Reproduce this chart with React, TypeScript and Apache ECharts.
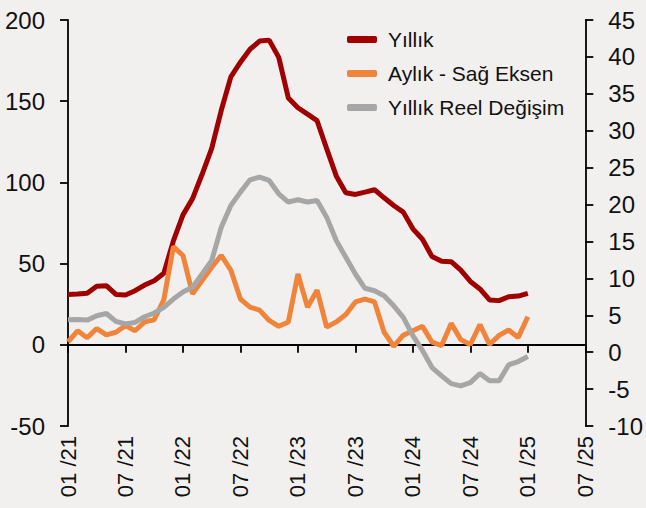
import React, { useEffect, useRef } from "react";
import * as echarts from "echarts";

const years = ["21", "22", "23", "24", "25"];
const monthNames = ["01", "02", "03", "04", "05", "06", "07", "08", "09", "10", "11", "12"];
const categories: string[] = [];
years.forEach((y) => monthNames.forEach((m) => categories.push(m + " /" + y)));
categories.splice(55); // 01/21 .. 07/25

const seriesNames = ["Yıllık", "Aylık - Sağ Eksen", "Yıllık Reel Değişim"];

const yillik = [
  31, 31.3, 31.7, 36, 36.4, 31, 30.7, 33.3, 36.8, 39.5, 44, 64, 80, 90, 105, 121, 144.4, 165, 174, 182,
  187, 187.6, 177, 152, 146, 142, 138, 120.8, 104, 93.6, 92.6, 94, 95.5, 90.5, 85.8, 81.7, 71.4, 65,
  54.3, 51.4, 51.2, 46, 39, 34.4, 27.6, 27.2, 29.6, 30, 31.7,
];

const aylik = [
  1.4, 2.9, 1.95, 3.2, 2.35, 2.7, 3.6, 2.9, 4.1, 4.4, 7.1, 14.3, 13.1, 7.9, 9.7, 11.5, 13.1, 11.1, 7.2,
  6.1, 5.7, 4.3, 3.5, 4.1, 10.6, 6.1, 8.4, 3.4, 4.1, 5.1, 6.8, 7.2, 6.8, 2.7, 0.8, 2.3, 2.9, 3.5, 1.36,
  0.9, 3.9, 1.7, 1.04, 3.75, 1.04, 2.27, 3.0, 2.0, 4.8,
];

const reel = [
  15.4, 15.6, 15.2, 17.9, 19.3, 14.4, 12.8, 13.8, 17.3, 19.6, 23, 28.2, 32.5, 35.4, 43.6, 51.9, 72.4,
  85.8, 94, 101.6, 103.3, 101.2, 93, 87.9, 89.3, 87.9, 88.9, 78.6, 64.2, 53.9, 43.6, 34.8, 33.3, 30.2,
  24, 16.9, 5.6, -3.5, -14, -19.1, -23.9, -25.3, -23.3, -17.7, -22.2, -22.2, -12.3, -10.3, -7.2,
];

const leftAxis = { min: -50, max: 200, interval: 50 };
const rightAxis = { min: -10, max: 45, interval: 5 };

const colors = ["#A00000", "#F0843A", "#A6A6A6"];

export default function App() {
  const ref = useRef<HTMLDivElement>(null);

  useEffect(() => {
    if (!ref.current) return;
    const chart = echarts.init(ref.current, undefined, { renderer: "svg" });
    const axisColor = "#000";
    const textColor = "#111";
    const font = "Liberation Sans";
    const every6 = (i: number) => i % 6 === 0;

    chart.setOption({
      animation: false,
      backgroundColor: "#F2F0EE",
      textStyle: { fontFamily: font },
      grid: { left: 68, right: 60, top: 20, bottom: 82 },
      legend: {
        orient: "vertical",
        left: 347,
        top: 29,
        padding: 0,
        itemWidth: 30,
        itemHeight: 7,
        itemGap: 13,
        icon: "roundRect",
        textStyle: { fontSize: 21, color: textColor, fontFamily: font, padding: [0, 0, 0, 6] },
        data: seriesNames,
      },
      xAxis: [
        {
          type: "category",
          data: categories,
          boundaryGap: false,
          axisLine: { show: true, onZero: true, onZeroAxisIndex: 0, lineStyle: { color: axisColor, width: 1.8 } },
          axisTick: { show: true, length: 8, interval: every6, lineStyle: { color: axisColor, width: 1.8 } },
          axisLabel: { show: false },
          splitLine: { show: false },
        },
        {
          type: "category",
          data: categories,
          boundaryGap: false,
          position: "bottom",
          axisLine: { show: false, onZero: false },
          axisTick: { show: false },
          axisLabel: {
            interval: every6,
            rotate: 90,
            fontSize: 22,
            color: textColor,
            fontFamily: font,
            margin: 10,
            padding: [16, 0, 0, 0],
          },
          splitLine: { show: false },
        },
      ],
      yAxis: [
        {
          type: "value",
          position: "left",
          min: leftAxis.min,
          max: leftAxis.max,
          interval: leftAxis.interval,
          axisLine: { show: true, lineStyle: { color: axisColor, width: 1.8 } },
          axisTick: { show: true, length: 8, lineStyle: { color: axisColor, width: 1.8 } },
          axisLabel: { fontSize: 24, color: textColor, fontFamily: font, margin: 23 },
          splitLine: { show: false },
        },
        {
          type: "value",
          position: "right",
          min: rightAxis.min,
          max: rightAxis.max,
          interval: rightAxis.interval,
          axisLine: { show: true, lineStyle: { color: axisColor, width: 1.8 } },
          axisTick: { show: true, length: 8, lineStyle: { color: axisColor, width: 1.8 } },
          axisLabel: { fontSize: 24, color: textColor, fontFamily: font, margin: 23 },
          splitLine: { show: false },
        },
      ],
      series: [
        {
          name: seriesNames[0],
          type: "line",
          data: yillik,
          xAxisIndex: 0,
          yAxisIndex: 0,
          showSymbol: false,
          symbol: "none",
          lineStyle: { width: 5, color: colors[0] },
          itemStyle: { color: colors[0] },
        },
        {
          name: seriesNames[1],
          type: "line",
          data: aylik,
          xAxisIndex: 0,
          yAxisIndex: 1,
          showSymbol: false,
          symbol: "none",
          lineStyle: { width: 5, color: colors[1] },
          itemStyle: { color: colors[1] },
        },
        {
          name: seriesNames[2],
          type: "line",
          data: reel,
          xAxisIndex: 0,
          yAxisIndex: 0,
          showSymbol: false,
          symbol: "none",
          lineStyle: { width: 5, color: colors[2] },
          itemStyle: { color: colors[2] },
        },
      ],
    });

    return () => chart.dispose();
  }, []);

  return (
    <div
      ref={ref}
      style={{ position: "absolute", left: 0, top: 0, width: 646, height: 508, background: "#F2F0EE" }}
    />
  );
}
